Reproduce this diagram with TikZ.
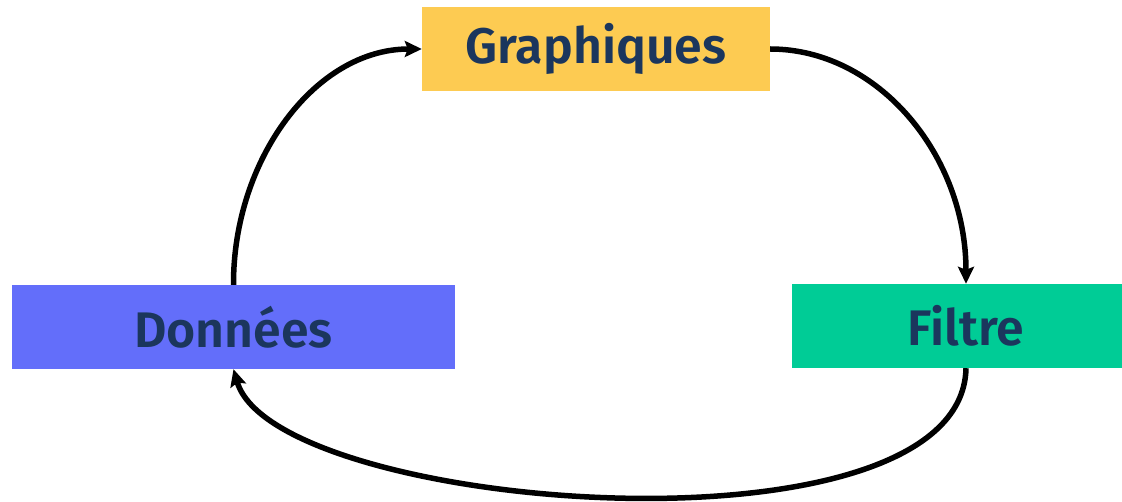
\documentclass[tikz,border=0pt]{standalone}
\usepackage{fontspec}
\setmainfont{Fira Sans}[BoldFont={Fira Sans SemiBold}]
\usetikzlibrary{arrows.meta}
\definecolor{cyellow}{HTML}{FDCB52}
\definecolor{cblue}{HTML}{636EFA}
\definecolor{cgreen}{HTML}{00CC96}
\definecolor{ctext}{HTML}{1B365D}
\begin{document}
\begin{tikzpicture}[x=1pt,y=-1pt,
  box/.style={rectangle, inner sep=0pt, minimum height=84pt, text=ctext,
    font=\fontsize{50}{56}\selectfont\bfseries},
  conn/.style={line width=5.5pt, -{Stealth[length=17pt,width=16pt,inset=3pt]}}]
\useasboundingbox (0,0) rectangle (1122,502);
\node[box, fill=cyellow, minimum width=348pt] (g) at (596,49) {Graphiques};
\node[box, fill=cblue, minimum width=443pt] (d) at (233.5,327) {Données};
\node[box, fill=cgreen, minimum width=348pt] (f) at (966,326) {Filtre};
\draw[conn] (d.north) .. controls (233,160) and (315,49) .. (g.west);
\draw[conn] (g.east) .. controls (878,49) and (966,155) .. (f.north);
\draw[conn] (f.south) .. controls (962,566) and (275,512) .. (d.south);
\end{tikzpicture}
\end{document}
